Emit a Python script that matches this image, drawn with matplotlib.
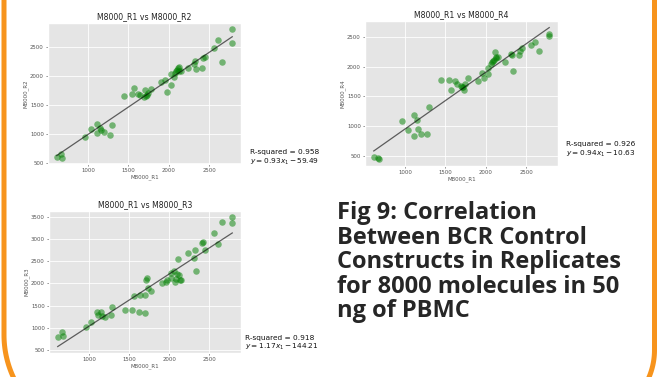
import numpy as np
import matplotlib
matplotlib.use('Agg')
import matplotlib.pyplot as plt

plt.style.use('ggplot')

# M8000_R1 (x de todas las graficas)
r1 = [610, 660, 670, 960, 1030, 1105, 1110, 1150, 1160, 1200, 1270, 1292,
      1448, 1540, 1565, 1620, 1640, 1697, 1703, 1712, 1725, 1738, 1775,
      1910, 1958, 1975, 2029, 2025, 2065, 2075, 2092, 2100, 2113, 2133,
      2125, 2146, 2238, 2308, 2321, 2333, 2408, 2420, 2445, 2558, 2608,
      2663, 2779, 2788]
r2 = [600, 650, 595, 952, 1082, 1178, 1014, 1099, 1070, 1031, 992, 1161,
      1653, 1681, 1788, 1681, 1675, 1640, 1766, 1660, 1670, 1704, 1771,
      1901, 1924, 1715, 1845, 2026, 1986, 2043, 2077, 2100, 2144, 2156,
      2077, 2088, 2133, 2212, 2257, 2127, 2133, 2310, 2331, 2484, 2619,
      2240, 2562, 2800]
r3 = [797, 909, 820, 1013, 1132, 1354, 1280, 1354, 1260, 1235, 1288, 1473,
      1407, 1399, 1711, 1369, 1741, 1332, 1733, 2075, 2127, 1889, 1830,
      2008, 2023, 2068, 2246, 2120, 2276, 2023, 2097, 2216, 2543, 2083,
      2200, 2083, 2677, 2580, 2744, 2276, 2915, 2937, 2744, 3138, 2885,
      3375, 3353, 3487]
r4 = [483, 461, 439, 1087, 937, 1187, 838, 1098, 954, 860, 865, 1314,
      1774, 1774, 1607, 1762, 1707, 1679, 1652, 1665, 1602, 1707, 1807,
      1762, 1901, 1812, 1884, 1973, 2039, 2084, 2100, 2120, 2255, 2167,
      2140, 2170, 2084, 2222, 2200, 1934, 2200, 2260, 2311, 2366, 2410,
      2261, 2521, 2560]

# texto de cada regresion (tal cual aparece)
names = ['M8000_R2', 'M8000_R4', 'M8000_R3']
rsq = [0.958, 0.926, 0.918]
slopes = [0.93, 0.94, 1.17]
intercepts = [-59.49, -10.63, -144.21]

W, H = 657, 377
fig = plt.figure(figsize=(W / 100, H / 100), dpi=100)
fig.patch.set_facecolor('white')

# posiciones en pixeles: izq, arriba, ancho, alto
boxes = [(48, 23, 193, 141), (365, 21, 193, 145), (49, 211, 192, 142)]
txtpos = [(1.045, -0.02), (1.04, 0.05), (1.02, 0.005)]
ys = [r2, r4, r3]

x = np.array(r1, dtype=float)
for k in range(3):
    l, t, w, h = boxes[k]
    ax = fig.add_axes([l / W, 1 - (t + h) / H, w / W, h / H])
    y = np.array(ys[k], dtype=float)
    ax.scatter(x, y, c='g', alpha=0.5, s=22, linewidths=0)
    a, b = np.polyfit(x, y, 1)
    xx = np.array([x.min(), x.max()])
    ax.plot(xx, a * xx + b, color='k', alpha=0.6, lw=0.9)
    ax.set_title('M8000_R1 vs ' + names[k], fontsize=5.6, color='#222222', pad=3)
    ax.set_xlabel('M8000_R1', fontsize=4, color='#555555', labelpad=1)
    ax.set_ylabel(names[k], fontsize=4, color='#555555', labelpad=1)
    ax.tick_params(labelsize=3.9, length=1.5, width=0.5, pad=1.5, colors='#555555')
    ax.set_xticks([1000, 1500, 2000, 2500])
    ax.grid(True, color='white', lw=0.6)
    sign = '-' if intercepts[k] < 0 else '+'
    s = 'R-squared = %.3f\n$y = %.2fx_1 %s %.2f$' % (rsq[k], slopes[k], sign, abs(intercepts[k]))
    ax.text(txtpos[k][0], txtpos[k][1], s, transform=ax.transAxes, fontsize=5.3,
            color='#111111', va='bottom', ha='left')

# texto del pie
fig.text(337 / W, 1 - 201 / H,
         'Fig 9: Correlation\nBetween BCR Control\nConstructs in Replicates\nfor 8000 molecules in 50\nng of PBMC',
         family=['Open Sans', 'DejaVu Sans'], fontweight='bold', fontsize=17,
         color='#262626', va='top', ha='left', linespacing=1.03)

# marco naranja
ov = fig.add_axes([0, 0, 1, 1], zorder=-1)
ov.set_xlim(0, W)
ov.set_ylim(H, 0)
ov.axis('off')
orange = '#F7941D'
t = np.linspace(np.pi, np.pi / 2, 60)
rl = 100
xl = np.concatenate([[4, 4], 4 + rl + rl * np.cos(t)])
yl = np.concatenate([[-10, 335], 335 + rl * np.sin(t)])
ov.plot(xl, yl, color=orange, lw=3.6, solid_capstyle='butt')
rr = 70
t2 = np.linspace(0, np.pi / 2, 60)
xr = np.concatenate([[654.5, 654.5], 654.5 - rr + rr * np.cos(t2)])
yr = np.concatenate([[-10, 350], 350 + rr * np.sin(t2)])
ov.plot(xr, yr, color=orange, lw=3.6, solid_capstyle='butt')

fig.savefig('out.png', dpi=100, facecolor='white')
